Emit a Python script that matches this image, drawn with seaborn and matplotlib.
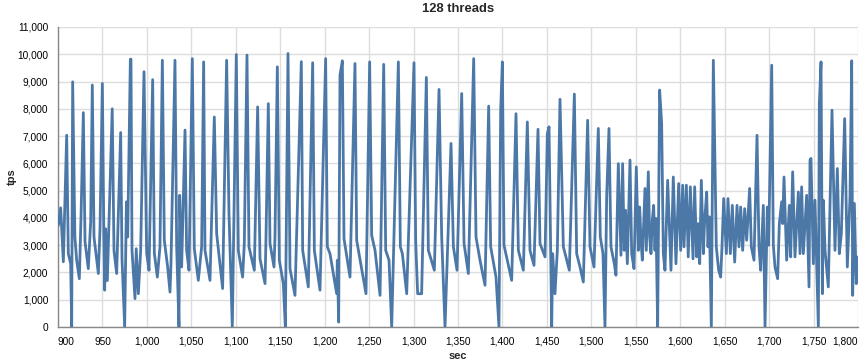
import matplotlib
matplotlib.use("Agg")
import matplotlib.pyplot as plt
import seaborn as sns
import pandas as pd
from matplotlib.ticker import FuncFormatter

# turning points of the tps curve
sec = [
    900.4, 903, 906, 909.75, 911.6, 914.25, 915.4, 916.5, 919, 921,
    924, 925.9, 928.5, 930.4, 934.1, 936.75, 938.6, 940.5, 945.4, 947.25,
    949.9, 951.5, 952.5, 953.6, 955.5, 961, 963, 966, 970.5, 972,
    975, 977, 978.4, 981.4, 982.1, 983.25, 986.6, 988, 990.4, 993,
    996.75, 999.75, 1002.4, 1006.5, 1008.4, 1011.75, 1014.7, 1017.4, 1019.6, 1023.35,
    1026, 1027.1, 1031.6, 1033.5, 1036.1, 1036.9, 1039.1, 1042.9, 1044.7, 1047.4,
    1051.1, 1053.35, 1057.85, 1061.6, 1063.85, 1065.35, 1071, 1075.85, 1078.5, 1085.2,
    1089.7, 1092.35, 1096.1, 1097.6, 1100.6, 1102.85, 1107.7, 1109.6, 1112.6, 1114.85,
    1120.85, 1124.6, 1127.25, 1132.9, 1134, 1136.6, 1138.5, 1143, 1144.1, 1146.75,
    1149, 1153.5, 1155.75, 1158.75, 1161, 1166.6, 1173.75, 1175.25, 1181.6, 1186.5,
    1188.4, 1194.75, 1201.1, 1203, 1206, 1213.5, 1214.25, 1215.75, 1217.25, 1219.9,
    1221.75, 1228.5, 1234.1, 1236, 1246.5, 1250.6, 1252.9, 1256.65, 1262.3, 1266.4,
    1268.65, 1272.4, 1275.4, 1282.9, 1285.15, 1287.4, 1292.3, 1300.5, 1302.4, 1304.6,
    1309.1, 1314.4, 1316.65, 1323.4, 1328.65, 1331.65, 1335.4, 1342.15, 1344.8, 1348.9,
    1354.15, 1356.8, 1361.65, 1367.65, 1370.25, 1374.75, 1380.4, 1384.5, 1386.75, 1392.75,
    1396.1, 1398, 1399.9, 1401.75, 1410.4, 1415.25, 1417.9, 1423.5, 1428, 1431,
    1435.5, 1440, 1442.25, 1447.9, 1450.5, 1452.4, 1455.4, 1456.5, 1459.1, 1461.75,
    1464.75, 1468.5, 1475.25, 1480.9, 1483.5, 1487.25, 1491, 1495.85, 1498.5, 1503,
    1507.85, 1510.1, 1513.1, 1515.35, 1517.25, 1519.85, 1522.1, 1525.85, 1527.7, 1530.35,
    1533.35, 1535.2, 1537, 1538.5, 1540.5, 1543.5, 1545.4, 1548, 1550.6, 1552.85,
    1554.35, 1555.85, 1557.35, 1560.35, 1561.85, 1564.1, 1565.6, 1567.1, 1568.6, 1570.1,
    1571.6, 1572.7, 1574.6, 1576.85, 1579.1, 1581, 1582.85, 1585.85, 1589.6, 1592.2,
    1595.2, 1598.25, 1600.5, 1602.75, 1604.25, 1606.9, 1609, 1611.4, 1614.4, 1616.25,
    1618.5, 1620, 1621.9, 1623.75, 1626, 1627.5, 1629.75, 1631.25, 1632.75, 1635,
    1637.25, 1640.6, 1643.25, 1645.5, 1647, 1648.9, 1651.9, 1653.75, 1656.4, 1658.6,
    1661.25, 1663.9, 1666.1, 1668, 1670.25, 1672.5, 1674.75, 1678.1, 1680, 1683,
    1686.4, 1688.6, 1690.5, 1693.5, 1695.4, 1698, 1699.5, 1702.9, 1704.75, 1706.6,
    1709.6, 1711.5, 1714.1, 1715.25, 1716.75, 1719.75, 1722.75, 1724.25, 1726.5, 1729.1,
    1732.9, 1734.75, 1736.6, 1738.5, 1742.25, 1744.9, 1746, 1747.1, 1749.75, 1751.6,
    1755.4, 1756.5, 1758.4, 1759.9, 1761, 1762.9, 1766.6, 1770.75, 1774.1, 1776.75,
    1779, 1781.25, 1785, 1788, 1791, 1792.9, 1794, 1795.9, 1798, 1800,
]
tps = [
    3730, 4370, 2390, 7030, 2700, 2320, 0, 8990, 3300, 2450,
    1770, 4040, 7860, 3120, 2140, 3850, 8870, 3300, 1960, 3600,
    8930, 3600, 1350, 3600, 1700, 8000, 2800, 1960, 7130, 2500,
    0, 4590, 3300, 9820, 9820, 2800, 1040, 2870, 1220, 2810,
    9360, 2700, 2080, 9070, 2700, 1830, 2940, 9780, 3180, 2200,
    1280, 2320, 9780, 2940, 0, 4830, 2200, 7220, 2810, 2080,
    9840, 2870, 1710, 2940, 9720, 2810, 1710, 7700, 3420, 1410,
    9780, 4160, 0, 3420, 9990, 2810, 1830, 3060, 9970, 2940,
    2080, 8070, 2500, 1590, 3300, 8190, 3060, 2200, 3300, 9540,
    2450, 1590, 0, 10030, 2140, 1160, 9730, 2810, 1470, 9690,
    2810, 1350, 9840, 2940, 2690, 1220, 2450, 180, 9240, 9760,
    3240, 1830, 9660, 3180, 1220, 9720, 3360, 2810, 1160, 9630,
    2810, 2450, 0, 9720, 2940, 2690, 1220, 9690, 3120, 1220,
    1220, 9150, 2810, 2080, 8710, 3300, 0, 6730, 2940, 2080,
    8560, 3060, 1960, 9840, 3300, 2450, 1530, 8100, 2940, 1830,
    0, 7950, 9720, 3000, 1710, 7820, 2810, 2080, 7520, 2810,
    2260, 7250, 3060, 2570, 7090, 7340, 0, 2690, 1220, 2810,
    8350, 2940, 2080, 8540, 2690, 2200, 1650, 7580, 2940, 2200,
    7280, 3300, 2690, 0, 4770, 7280, 2940, 2320, 1900, 5990,
    2630, 5990, 2810, 4280, 2320, 6120, 2690, 2140, 5870, 2810,
    4400, 3200, 2450, 5080, 2810, 5690, 3300, 2690, 3920, 4460,
    2810, 3980, 0, 8690, 7460, 2690, 2080, 5380, 2080, 5500,
    2320, 5260, 2810, 5200, 2940, 5200, 2570, 5140, 2500, 5140,
    2570, 3790, 2320, 5380, 2690, 3910, 4950, 2940, 4040, 0,
    9780, 2940, 2080, 1830, 2940, 4710, 2690, 4710, 2690, 4460,
    2380, 4460, 2940, 4400, 2810, 4340, 3180, 5080, 2940, 2450,
    7030, 2940, 2080, 4460, 0, 4400, 3000, 9600, 3000, 2200,
    1770, 3790, 4590, 3790, 5500, 2450, 4460, 2570, 5690, 2570,
    4950, 2690, 5140, 2690, 4830, 1470, 6120, 6180, 2320, 4650,
    0, 8190, 9720, 1220, 4650, 2810, 1470, 7950, 2810, 5810,
    2690, 3420, 7640, 2200, 4770, 9760, 1160, 4530, 1590, 2570,
]

x_ticks = list(range(900, 1801, 50))
y_ticks = list(range(0, 11001, 1000))

sns.set_style("white")
plt.rcParams["font.family"] = ["Liberation Sans", "DejaVu Sans"]

df = pd.DataFrame({"sec": sec, "tps": tps})

fig = plt.figure(figsize=(8.65, 3.64), dpi=100)
ax = fig.add_axes([58 / 865, 1 - 327 / 364, 800 / 865, 300 / 364])

sns.lineplot(data=df, x="sec", y="tps", ax=ax, color="#4c78a8", linewidth=2, zorder=3)

ax.set_xlim(900, 1800)
ax.set_ylim(0, 11000)
ax.set_xticks(x_ticks)
ax.set_yticks(y_ticks)
fmt = FuncFormatter(lambda v, p: f"{v:,.0f}")
ax.xaxis.set_major_formatter(fmt)
ax.yaxis.set_major_formatter(fmt)

ax.grid(True, color="#dddddd", linewidth=1, zorder=0)
ax.set_axisbelow(True)
for s in ["top", "right"]:
    ax.spines[s].set_visible(False)
for s in ["left", "bottom"]:
    ax.spines[s].set_color("#888888")
    ax.spines[s].set_linewidth(1)

ax.tick_params(axis="both", length=5, width=1, color="#888888", labelsize=7.3,
               labelcolor="#000000", pad=2)

# vega-style flush labels at the axis ends
xl = ax.get_xticklabels()
xl[0].set_horizontalalignment("left")
xl[-1].set_horizontalalignment("right")

ax.set_xlabel("sec", fontsize=8, fontweight="bold", labelpad=3)
ax.set_ylabel("tps", fontsize=8, fontweight="bold", labelpad=0.5)
fig.text(458 / 865, 1 - 9 / 364, "128 threads", ha="center", va="center",
         fontsize=9.4, fontweight="bold")

fig.savefig("out.png", dpi=100)
plt.close(fig)
